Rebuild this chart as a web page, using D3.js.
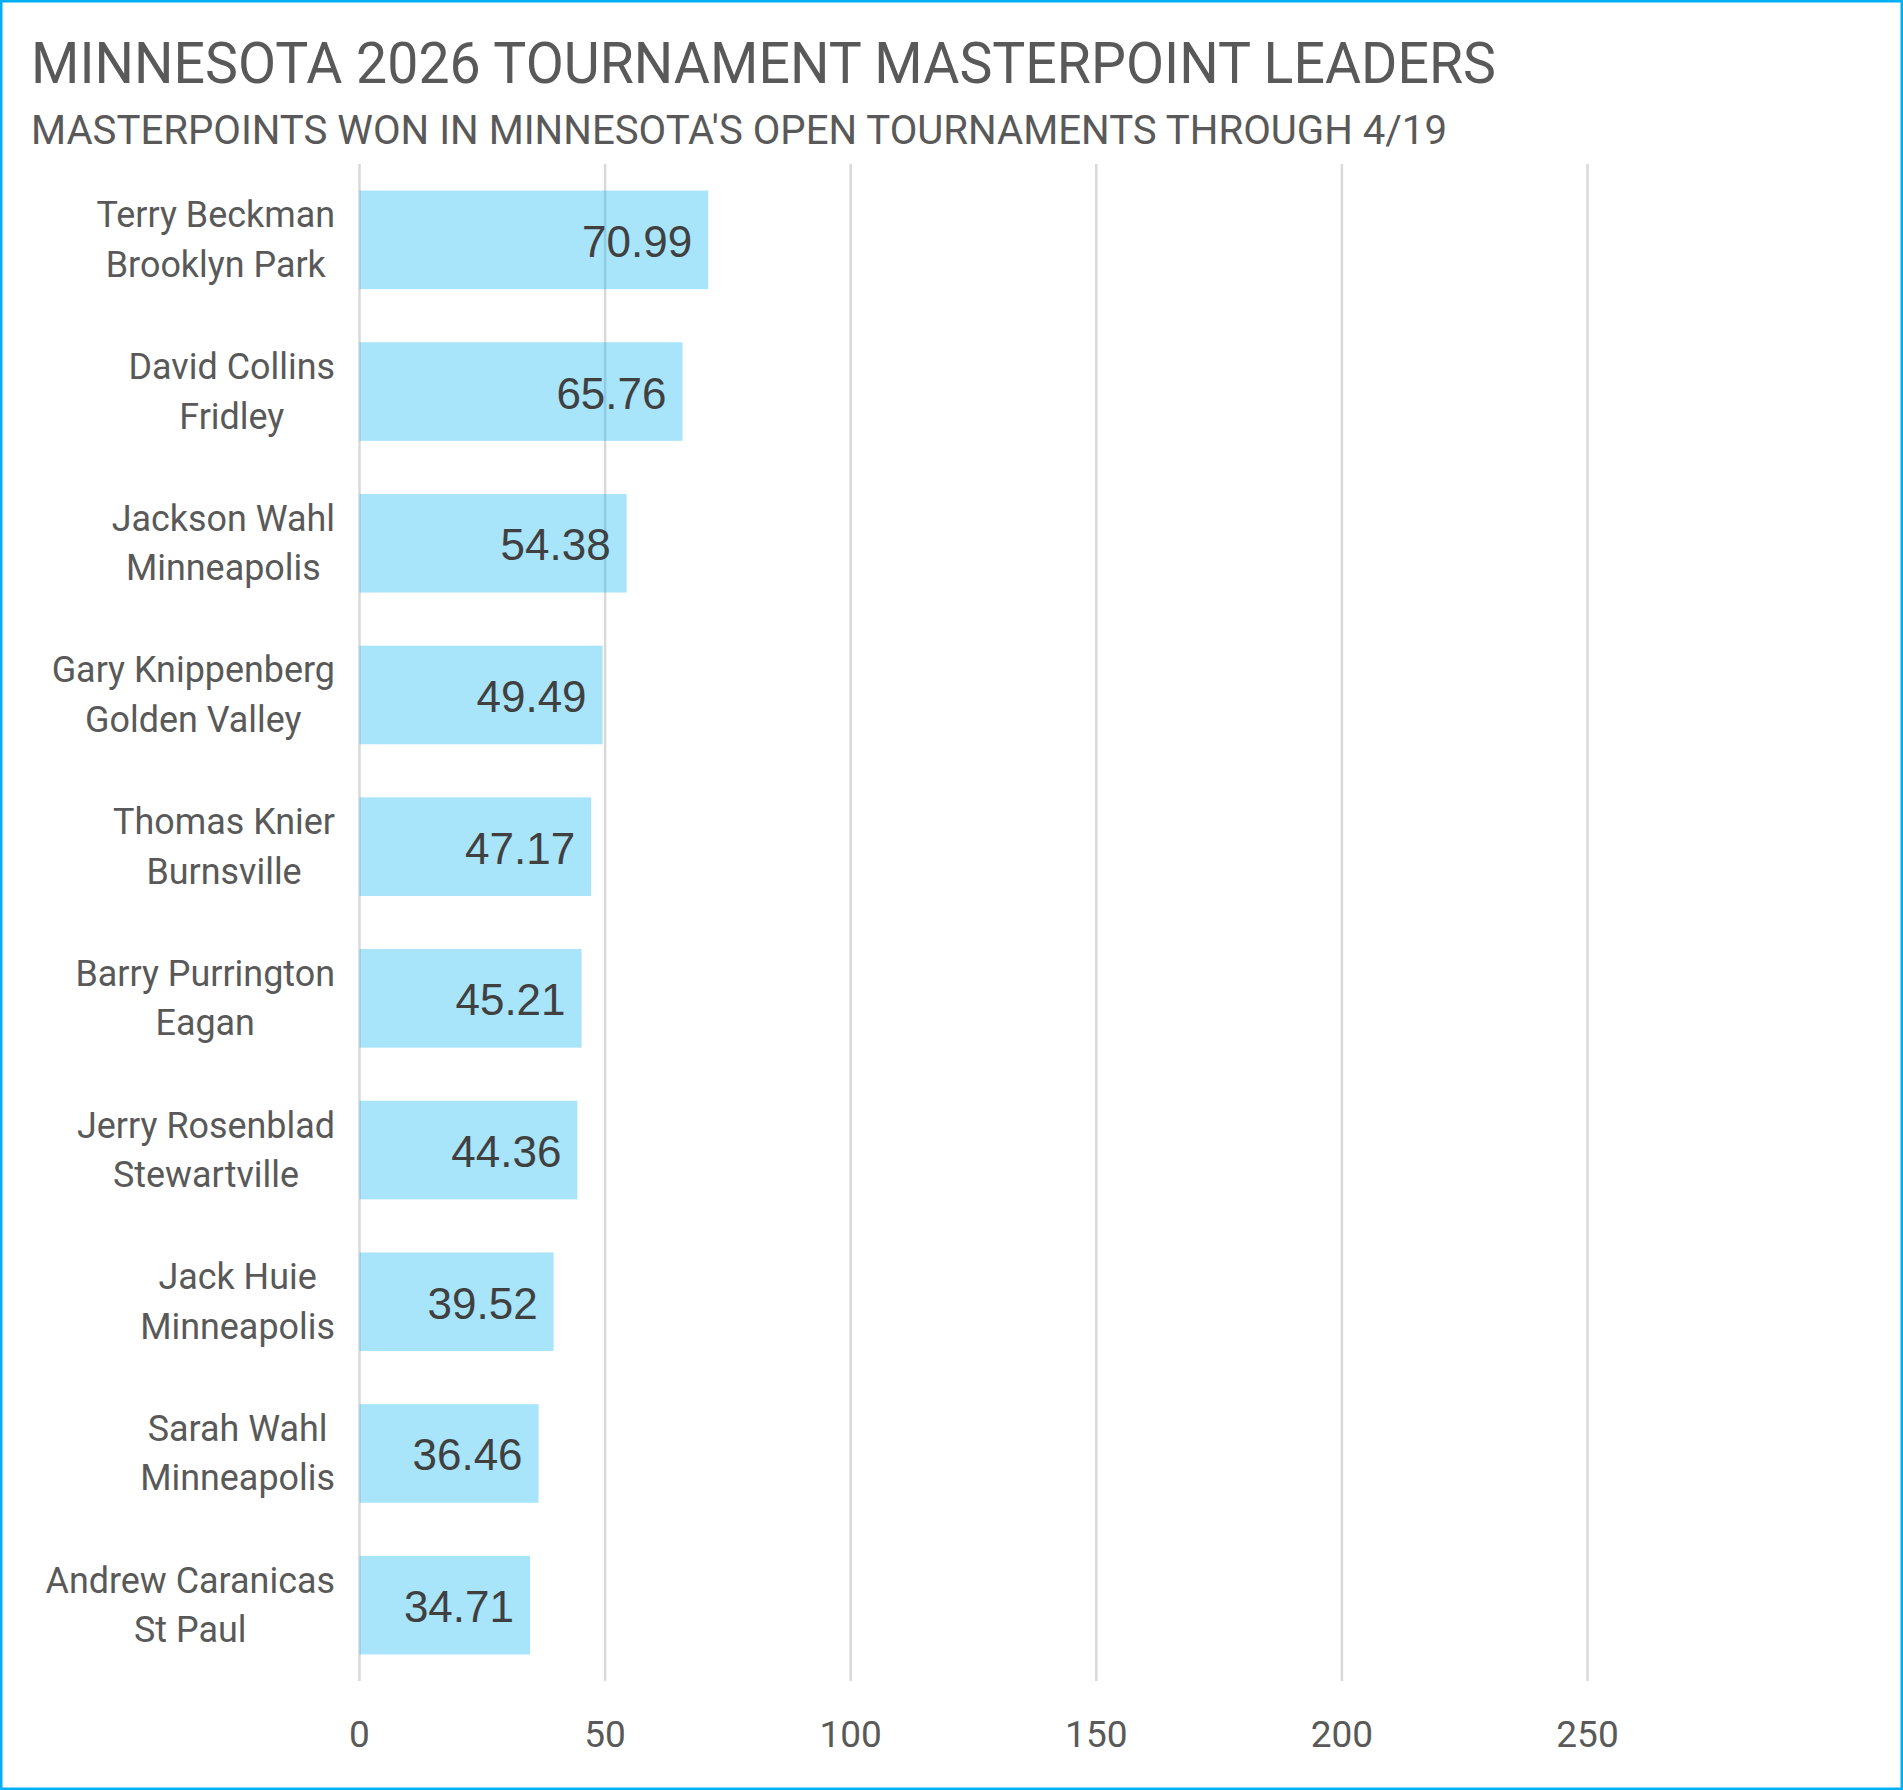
<!DOCTYPE html>
<html lang="en">
<head>
  <meta charset="UTF-8">
  <title>Minnesota 2026 Tournament Masterpoint Leaders</title>
  <script src="https://d3js.org/d3.v7.min.js"></script>
  <style>
    body { margin: 0; background: #fff; }
  </style>
</head>
<body>
  <svg width="1903" height="1790"></svg>
  <script>
    const names = ["Terry Beckman", "David Collins", "Jackson Wahl", "Gary Knippenberg", "Thomas Knier",
                   "Barry Purrington", "Jerry Rosenblad", "Jack Huie", "Sarah Wahl", "Andrew Caranicas"];
    const cities = ["Brooklyn Park", "Fridley", "Minneapolis", "Golden Valley", "Burnsville",
                    "Eagan", "Stewartville", "Minneapolis", "Minneapolis", "St Paul"];
    const values = [70.99, 65.76, 54.38, 49.49, 47.17, 45.21, 44.36, 39.52, 36.46, 34.71];
    const tickValues = [0, 50, 100, 150, 200, 250];
    const title = "MINNESOTA 2026 TOURNAMENT MASTERPOINT LEADERS";
    const subtitle = "MASTERPOINTS WON IN MINNESOTA'S OPEN TOURNAMENTS THROUGH 4/19";

    const narrow = "'Liberation Sans Narrow', 'Roboto', 'Liberation Sans', sans-serif";
    const svg = d3.select("svg");
    const width = +svg.attr("width");
    const height = +svg.attr("height");

    // outer border
    svg.append("rect")
      .attr("x", 1.25).attr("y", 1.25)
      .attr("width", width - 2.5).attr("height", height - 2.5)
      .attr("fill", "#fff")
      .attr("stroke", "#00B0F0")
      .attr("stroke-width", 2.5);

    // titles
    svg.append("text")
      .attr("x", 31).attr("y", 83)
      .attr("font-family", narrow)
      .attr("font-size", 58)
      .attr("fill", "#595959")
      .attr("textLength", 1465)
      .attr("lengthAdjust", "spacingAndGlyphs")
      .text(title);
    svg.append("text")
      .attr("x", 31).attr("y", 144)
      .attr("font-family", narrow)
      .attr("font-size", 40)
      .attr("fill", "#595959")
      .attr("textLength", 1416)
      .attr("lengthAdjust", "spacingAndGlyphs")
      .text(subtitle);

    // scales
    const x = d3.scaleLinear().domain([0, 250]).range([359.5, 1587.5]);
    const y = d3.scaleBand()
      .domain(names)
      .range([164, 1681])
      .paddingInner(0.35)
      .paddingOuter(0.175);

    // gridlines
    svg.append("g")
      .selectAll("line")
      .data(tickValues)
      .join("line")
      .attr("x1", d => x(d)).attr("x2", d => x(d))
      .attr("y1", 164).attr("y2", 1681)
      .attr("stroke", "#D9D9D9")
      .attr("stroke-width", 2.5);

    // axis labels
    svg.append("g")
      .selectAll("text")
      .data(tickValues)
      .join("text")
      .attr("x", d => x(d))
      .attr("y", 1747)
      .attr("text-anchor", "middle")
      .attr("font-family", narrow)
      .attr("font-size", 37)
      .attr("fill", "#595959")
      .text(d => d);

    // bars
    svg.append("g")
      .selectAll("rect")
      .data(values)
      .join("rect")
      .attr("x", x(0))
      .attr("y", (d, i) => y(names[i]))
      .attr("width", d => x(d) - x(0))
      .attr("height", y.bandwidth())
      .attr("fill", "#00B0F0")
      .attr("fill-opacity", 0.34);

    // value labels
    svg.append("g")
      .selectAll("text")
      .data(values)
      .join("text")
      .attr("x", d => x(d) - 16)
      .attr("y", (d, i) => y(names[i]) + y.bandwidth() / 2 + 17)
      .attr("text-anchor", "end")
      .attr("font-family", "'Liberation Sans', Arial, sans-serif")
      .attr("font-size", 44)
      .attr("fill", "#404040")
      .text(d => d.toFixed(2));

    // category labels: two centred lines, block right-aligned
    const labelRight = 335;
    const squeeze = 0.97;
    const cat = svg.append("g")
      .selectAll("g")
      .data(names)
      .join("g");
    cat.each(function(name, i) {
      const g = d3.select(this);
      const cy = y(name) + y.bandwidth() / 2;
      const t1 = g.append("text").attr("y", cy - 12.5).text(name);
      const t2 = g.append("text").attr("y", cy + 37).text(cities[i]);
      g.selectAll("text")
        .attr("font-family", narrow)
        .attr("font-size", 37)
        .attr("fill", "#595959")
        .attr("text-anchor", "middle");
      const w1 = t1.node().getComputedTextLength() * squeeze;
      const w2 = t2.node().getComputedTextLength() * squeeze;
      t1.attr("textLength", w1).attr("lengthAdjust", "spacingAndGlyphs");
      t2.attr("textLength", w2).attr("lengthAdjust", "spacingAndGlyphs");
      g.selectAll("text").attr("x", labelRight - Math.max(w1, w2) / 2);
    });
  </script>
</body>
</html>
